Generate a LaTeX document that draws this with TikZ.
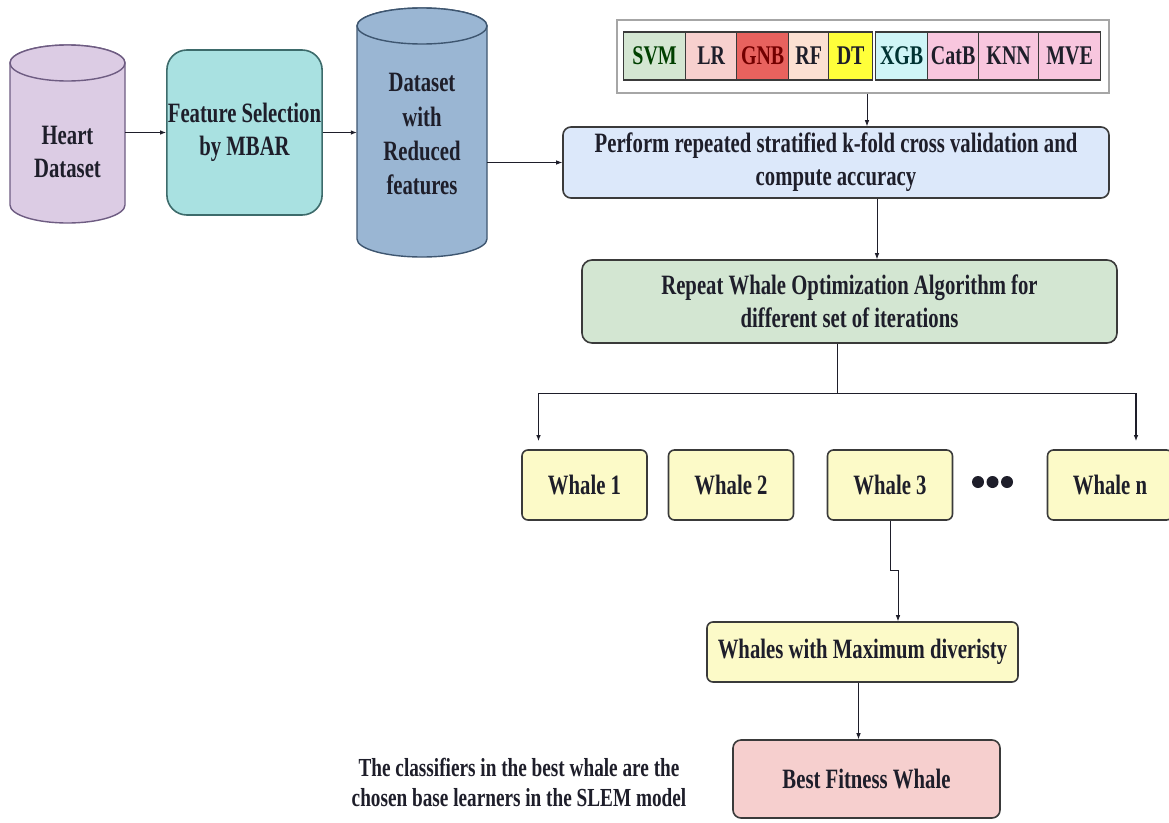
\documentclass[tikz,border=0pt]{standalone}
\usepackage{fontspec}
\setmainfont{Liberation Serif}[FakeStretch=0.74]
\usepackage{tikz}
\usetikzlibrary{arrows.meta,positioning,calc}
\definecolor{heartlilac}{HTML}{DCCCE4}
\definecolor{heartedge}{HTML}{6E5C82}
\definecolor{featteal}{HTML}{A9E1E1}
\definecolor{featedge}{HTML}{3D6B6B}
\definecolor{redblue}{HTML}{9AB6D3}
\definecolor{rededge}{HTML}{3E5670}
\definecolor{perfblue}{HTML}{DCE8FA}
\definecolor{repgreen}{HTML}{D3E6D2}
\definecolor{whaleyellow}{HTML}{FCFAC8}
\definecolor{bestpink}{HTML}{F6CFCE}
\definecolor{inkdark}{HTML}{1E1E2A}
\definecolor{edgedark}{HTML}{3A3A3A}
\definecolor{svmgreen}{HTML}{D4E6D2}
\definecolor{lrpink}{HTML}{F7D0CE}
\definecolor{gnbred}{HTML}{E8625E}
\definecolor{rfpeach}{HTML}{FCE0D2}
\definecolor{dtyellow}{HTML}{FFFF3A}
\definecolor{xgbcyan}{HTML}{CFF5F7}
\definecolor{catpink}{HTML}{F8C6DE}

\begin{document}
\begin{tikzpicture}[x=1pt, y=1pt,
  txt/.style={font=\fontsize{28}{33}\selectfont\bfseries, text=inkdark, align=center},
  box/.style={txt, draw=edgedark, line width=1.6pt, rounded corners=8pt},
  clfbox/.style={draw=edgedark, line width=1.3pt, minimum height=48, inner sep=0pt, anchor=west,
    font=\fontsize{27}{30}\selectfont\bfseries},
  whalebox/.style={box, fill=whaleyellow, minimum width=125, minimum height=70, rounded corners=6pt},
  arr/.style={-{Latex[length=6pt,width=4.5pt]}, line width=0.8pt, draw=inkdark}]
\useasboundingbox (0,0) rectangle (1169,-822);
\fill[white] (0,0) rectangle (1169,-822);

% data cylinders
\draw[heartedge, fill=heartlilac, line width=1.4pt] (10,-63) -- (10,-205)
  arc[start angle=180, end angle=360, x radius=57.5pt, y radius=18pt] -- (125,-63)
  arc[start angle=0, end angle=180, x radius=57.5pt, y radius=18pt] -- cycle;
\draw[heartedge, fill=heartlilac, line width=1.4pt] (67.5,-63) ellipse[x radius=57.5pt, y radius=18pt];
\node[txt, minimum width=115] (heart) at (67.5,-152) {Heart\\Dataset};

\draw[rededge, fill=redblue, line width=1.4pt] (357,-26) -- (357,-239)
  arc[start angle=180, end angle=360, x radius=65pt, y radius=18pt] -- (487,-26)
  arc[start angle=0, end angle=180, x radius=65pt, y radius=18pt] -- cycle;
\draw[rededge, fill=redblue, line width=1.4pt] (422,-26) ellipse[x radius=65pt, y radius=18pt];
\node[txt, font=\fontsize{28}{34}\selectfont\bfseries, minimum width=130] (redset) at (422,-134) {Dataset\\with\\Reduced\\features};

\node[box, fill=featteal, draw=featedge, minimum width=155, minimum height=165, inner sep=1pt, rounded corners=20pt] (feat) at (244.5,-132.5) {Feature Selection\\by MBAR};

% classifiers
\node[draw=gray!70, line width=1.2pt, minimum width=492, minimum height=73] (clf) at (863,-56.5) {};
\foreach \nm/\lx/\w/\fc/\tc in {SVM/623/62/svmgreen/green!25!black, LR/685/51/lrpink/inkdark,
    GNB/736/52/gnbred/red!45!black, RF/788/40/rfpeach/inkdark, DT/828/44/dtyellow/inkdark,
    XGB/875/52/xgbcyan/teal!40!black, CatB/927/51/catpink/inkdark, KNN/978/60/catpink/inkdark,
    MVE/1038/62/catpink/inkdark}
  \node[clfbox, fill=\fc, text=\tc, minimum width=\w] (c\nm) at (\lx,-56) {\nm};

\node[box, fill=perfblue, minimum width=546, minimum height=71] (perf) at (836,-162.5)
  {Perform repeated stratified k-fold cross validation and\\compute accuracy};
\node[box, fill=repgreen, minimum width=535, minimum height=83, rounded corners=10pt] (rep) at (849.5,-301.5)
  {Repeat Whale Optimization Algorithm for\\different set of iterations};

% whales
\foreach \nm/\cx/\lbl in {w1/584.5/Whale 1, w2/731/Whale 2, w3/890/Whale 3, wn/1110/Whale n}
  \node[whalebox] (\nm) at (\cx,-485) {\lbl};
\foreach \dx in {978,992.5,1007}
  \fill[inkdark] (\dx,-482) circle[radius=6pt];

\node[box, fill=whaleyellow, minimum width=311, minimum height=60, inner sep=1pt, rounded corners=6pt] (maxdiv) at (862.5,-652)
  {Whales with Maximum diveristy};
\node[box, fill=bestpink, minimum width=267, minimum height=78] (best) at (866.5,-779) {Best Fitness Whale};
\node[txt, font=\fontsize{26}{30}\selectfont\bfseries] (note) at (519,-782)
  {The classifiers in the best whale are the\\chosen base learners in the SLEM model};

% connectors
\draw[arr] (feat.west -| heart.east) -- (feat.west);
\draw[arr] (feat.east) -- (feat.east -| redset.west);
\draw[arr] (perf.west -| redset.east) -- (perf.west);
\draw[arr] ([xshift=4]clf.south) -- ([xshift=4]clf.south |- perf.north);
\draw[arr] ([xshift=41]perf.south) -- ([xshift=41]perf.south |- rep.north);
\draw[line width=1.2pt, inkdark] ([xshift=-12]rep.south) -- ++(0,-50) coordinate (split);
\draw[arr, line width=1.2pt, shorten >=8pt] (split) -| ([xshift=-46]w1.north);
\draw[arr, line width=1.2pt, shorten >=8pt] (split) -| ([xshift=26]wn.north);
\draw[arr] (w3.south) -- ++(0,-50) -- ++(8,0) coordinate (jog) -- (jog |- maxdiv.north);
\draw[arr] ([xshift=-4]maxdiv.south) -- ([xshift=-4]maxdiv.south |- best.north);
\end{tikzpicture}
\end{document}
